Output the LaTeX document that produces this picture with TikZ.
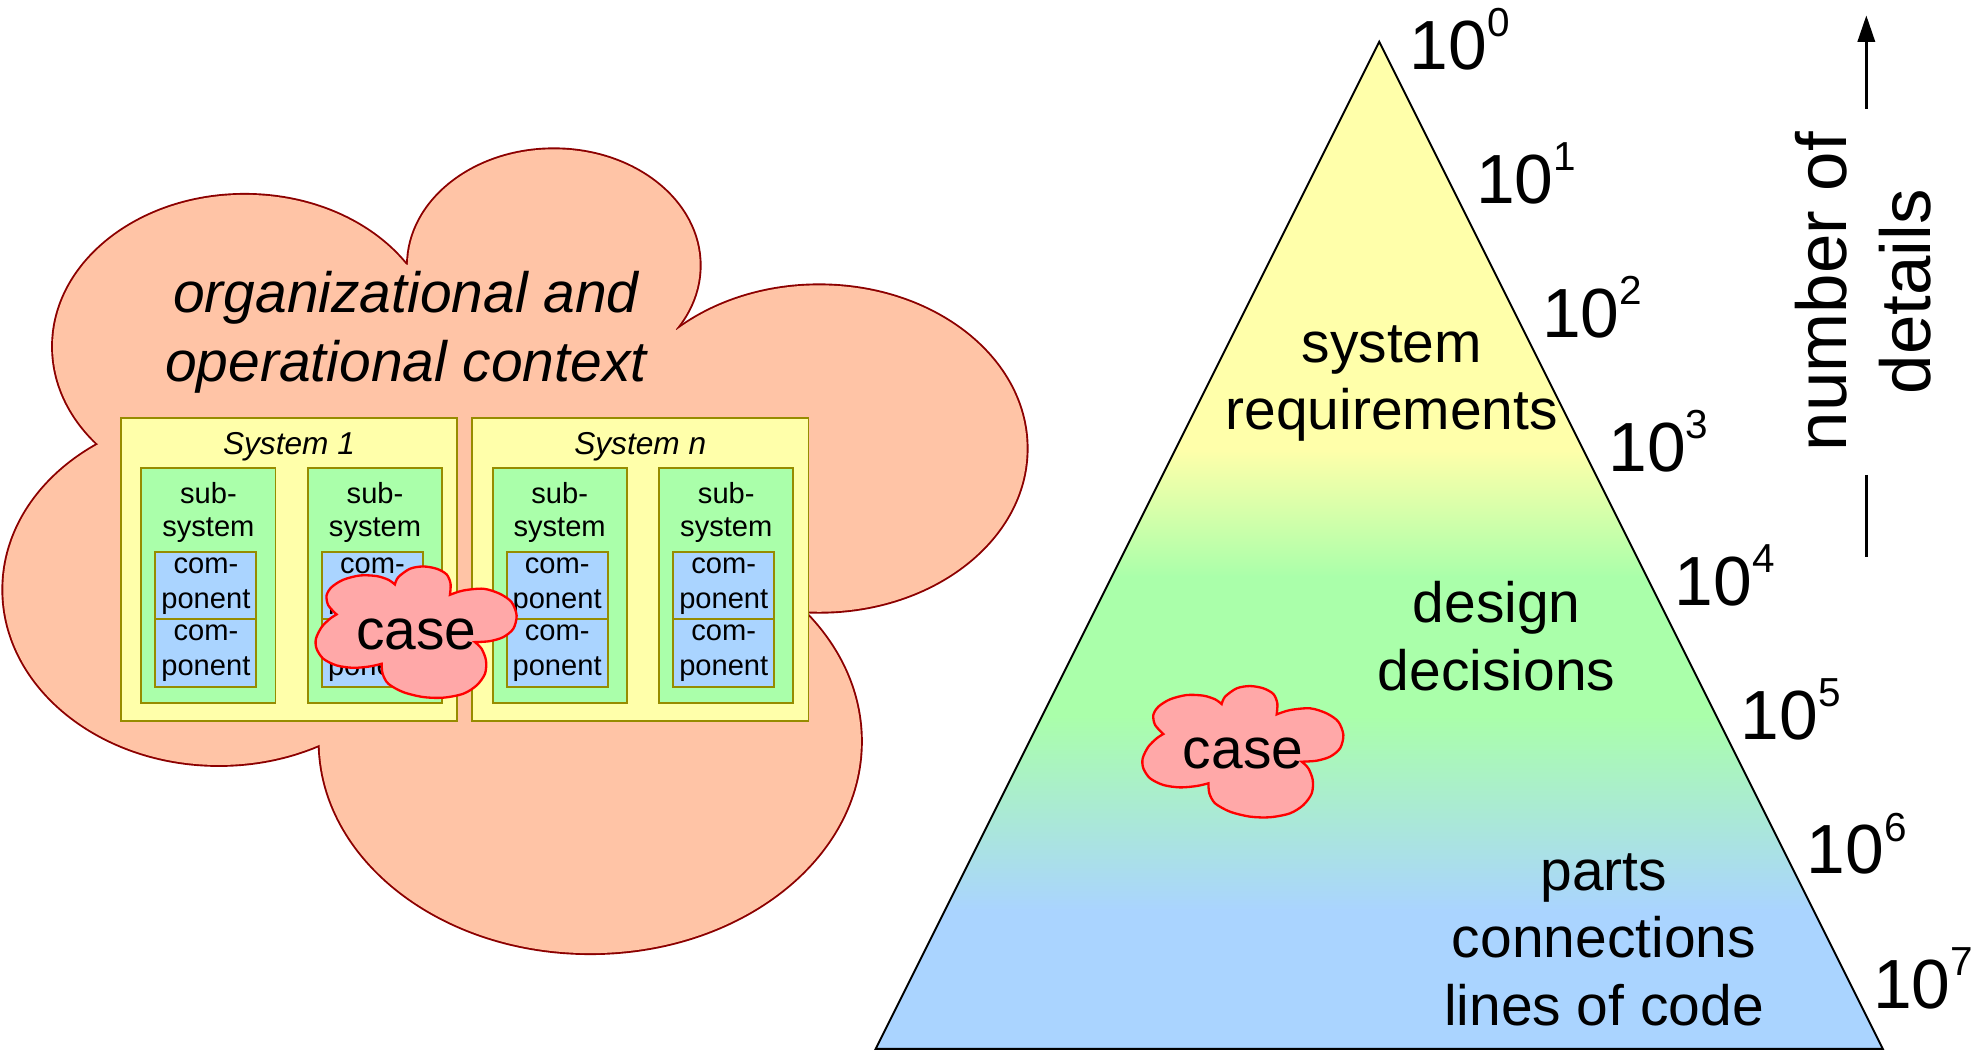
\documentclass[tikz,border=0pt]{standalone}
\usepackage{fontspec}
\setmainfont{Liberation Sans}
\usetikzlibrary{arrows.meta}

\definecolor{cloudfill}{RGB}{255,196,166}
\definecolor{cloudline}{RGB}{140,0,0}
\definecolor{sysfill}{RGB}{255,255,170}
\definecolor{subfill}{RGB}{170,255,170}
\definecolor{compfill}{RGB}{170,212,255}
\definecolor{boxline}{RGB}{150,140,0}
\definecolor{casefill}{RGB}{255,168,168}
\definecolor{caseline}{RGB}{255,0,0}
\definecolor{pyellow}{RGB}{255,255,170}
\definecolor{pgreen}{RGB}{170,255,170}
\definecolor{pblue}{RGB}{170,212,255}

\newcommand\pexp[1]{\raisebox{7.8pt}{\fontsize{9.6}{10}\selectfont #1}}

\tikzset{
  casecloud/.pic={
    \filldraw[caseline, fill=casefill, line width=0.55pt]
      (-63,-14) -- plot[smooth] coordinates {(-63,-14) (-69.5,-21.1) (-70.9,-29) (-66.9,-35.6)
        (-57.7,-41.4) (-44.5,-44.8) (-31.3,-44.3) (-22.1,-41.4) (-16.9,-37.7)}
      -- plot[smooth] coordinates {(-16.9,-37.7) (-14.2,-43.5) (-5,-50.1) (5.5,-51.9)
        (16.1,-50.1) (24,-45.6) (27.1,-38.2) (26.6,-29.5)}
      -- plot[smooth] coordinates {(26.6,-29.5) (37.1,-32.9) (53,-34.3) (66.1,-30.3)
        (75.3,-23.7) (79.3,-13.2) (76.7,-2.7) (68.8,3.9) (58.2,7.1) (46.4,7.9)}
      -- plot[smooth] coordinates {(46.4,7.9) (51.6,13.1) (55.1,22.4) (54.3,32.9) (47.7,42.1)
        (37.1,48.7) (21.3,51.8) (5.5,51.3) (-10.3,47.4) (-22.1,40.8) (-26.6,32.9) (-27.4,25)}
      -- plot[smooth] coordinates {(-27.4,25) (-36.6,27.1) (-49.8,28.2) (-63,26.3) (-73.5,21)
        (-78.8,13.1) (-79.3,5.2) (-74.8,-4) (-68.2,-10.6) (-63,-14)}
      -- cycle;
    \node[bigtxt] (-txt) at (0,13.5) {case};
  }
}

\begin{document}
\begin{tikzpicture}[x=0.3pt,y=-0.3pt,
    sysbox/.style={draw=boxline, fill=sysfill, line width=0.45pt, inner sep=0pt,
      minimum width=79.8pt, minimum height=71.85pt},
    subbox/.style={draw=boxline, fill=subfill, line width=0.45pt, inner sep=0pt,
      minimum width=31.8pt, minimum height=55.74pt},
    compbox/.style={draw=boxline, fill=compfill, line width=0.45pt, inner sep=0pt,
      minimum width=23.94pt, minimum height=15.93pt, align=center,
      font=\fontsize{6.9}{8.3}\selectfont},
    systxt/.style={anchor=base, inner sep=0pt, font=\itshape\fontsize{7.5}{9}\selectfont},
    subtxt/.style={anchor=base, inner sep=0pt, align=center, font=\fontsize{6.9}{7.9}\selectfont},
    bigtxt/.style={anchor=base, inner sep=0pt, align=center, font=\fontsize{13.5}{16}\selectfont},
    ctxtxt/.style={bigtxt, font=\itshape\fontsize{13.5}{16.4}\selectfont},
    powlbl/.style={anchor=base west, inner sep=0pt, font=\fontsize{16.5}{18}\selectfont},
    detlbl/.style={anchor=base, rotate=90, align=center, inner xsep=5.4pt, inner ysep=0pt,
      font=\fontsize{16.8}{20.1}\selectfont}]
  \useasboundingbox (0,0) rectangle (1568,830.6);

  % context cloud
  \foreach \cx/\cy/\rx/\ry in {193.4/273.9/151.5/119.9, 437.7/209.8/115.3/91.8,
      647.4/354.5/164/129, 466.5/586/213.9/167.3, 173/466/170.4/138.6}
    \draw[cloudline, line width=0.9pt] (\cx,\cy) ellipse [x radius=\rx, y radius=\ry];
  \fill[cloudfill] (79.7,354.5) -- (320.8,209) -- (533.6,259.4) -- (639.5,486.8) -- (256.9,588) -- cycle;
  \foreach \cx/\cy/\rx/\ry in {193.4/273.9/151.5/119.9, 437.7/209.8/115.3/91.8,
      647.4/354.5/164/129, 466.5/586/213.9/167.3, 173/466/170.4/138.6}
    \fill[cloudfill] (\cx,\cy) ellipse [x radius=\rx, y radius=\ry];
  \node[ctxtxt] (ctx) at (320.8,301.7) {organizational and\\operational context};

  % systems
  \foreach \sx/\sn/\id in {228.4/1/a, 506/n/b} {
    \node[sysbox] (sys\id) at (\sx,449.85) {};
    \node[systxt] (sys\id-lbl) at (\sx,359.6) {System \sn};
    \foreach \dx/\j in {-63.7/1, 68/2} {
      \node[subbox] (sub\id\j) at (\sx+\dx,463) {};
      \node[subtxt] (sub\id\j-lbl) at (\sx+\dx,424.1) {sub-\\system};
      \node[compbox] (comp\id\j a) at (\sx+\dx-2,463) {com-\\ponent};
      \node[compbox] (comp\id\j b) at (\sx+\dx-2,516.1) {com-\\ponent};
    }
  }
  \pic (lcase) at (329,499.6) {casecloud};

  % pyramid
  \coordinate (apex) at (1090,33);
  \coordinate (bl) at (692,829);
  \coordinate (br) at (1488,829);
  \begin{scope}
    \clip (apex) -- (bl) -- (br) -- cycle;
    \fill[pyellow] (692,30) rectangle (1488,356);
    \shade[top color=pyellow, bottom color=pgreen] (692,355) rectangle (1488,456);
    \fill[pgreen] (692,455) rectangle (1488,566);
    \shade[top color=pgreen, bottom color=pblue] (692,565) rectangle (1488,720);
    \fill[pblue] (692,719) rectangle (1488,832);
  \end{scope}
  \draw[line width=0.45pt] (apex) -- (bl) -- (br) -- cycle;
  \node[bigtxt] (req) at (1100,339.5) {system\\requirements};
  \node[bigtxt] (dec) at (1182.8,545.4) {design\\decisions};
  \node[bigtxt] (parts) at (1267.6,810.1) {parts\\connections\\lines of code};
  \pic (rcase) at (982.4,594.1) {casecloud};

  % scale
  \foreach \k in {0,...,7}
    \node[powlbl] (pow\k) at ({1113.6+52.3*\k},{54.7+106*\k}) {10\pexp{\k}};
  \node[detlbl] (ndet) at (1526,230.5) {number of\\details};
  \coordinate (arrtop) at (1475,12.2);
  \coordinate (arrend) at (1475,440);
  \draw[line width=0.65pt, -{Triangle[width=4.1pt,length=6.3pt]}] (ndet.east -| arrtop) -- (arrtop);
  \draw[line width=0.65pt] (ndet.west -| arrtop) -- (arrend);
\end{tikzpicture}
\end{document}
